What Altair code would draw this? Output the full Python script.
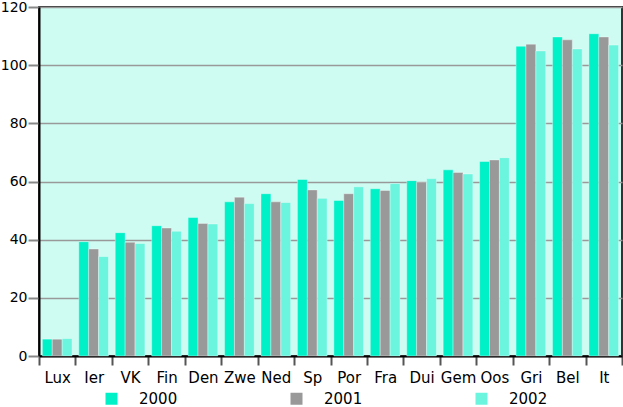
import altair as alt
import pandas as pd

countries = ["Lux", "Ier", "VK", "Fin", "Den", "Zwe", "Ned", "Sp", "Por", "Fra",
             "Dui", "Gem", "Oos", "Gri", "Bel", "It"]
years = ["2000", "2001", "2002"]
v2000 = [5.8, 39.3, 42.4, 44.8, 47.6, 53.0, 55.8, 60.7, 53.5, 57.5, 60.3, 64.0, 66.9, 106.5, 109.7, 110.8]
v2001 = [5.8, 36.8, 39.1, 44.0, 45.6, 54.6, 53.0, 57.1, 55.8, 56.9, 59.8, 63.1, 67.4, 107.2, 108.7, 109.7]
v2002 = [6.0, 34.2, 38.7, 42.9, 45.4, 52.4, 52.8, 54.2, 58.2, 59.3, 61.0, 62.6, 68.2, 104.9, 105.6, 106.9]
colors = ["#00F0C8", "#999999", "#6CF5DE"]

rows = []
for series, yr in zip([v2000, v2001, v2002], years):
    for c, v in zip(countries, series):
        rows.append({"land": c, "jaar": yr, "waarde": v})
df = pd.DataFrame(rows)

font = "DejaVu Sans"

chart = alt.Chart(df).mark_bar(
    stroke="#FFFFFF", strokeOpacity=0.35, strokeWidth=1
).encode(
    x=alt.X("land:N", sort=countries, title=None,
            scale=alt.Scale(paddingInner=0, paddingOuter=0),
            axis=alt.Axis(labelAngle=0, tickBand="extent", tickSize=9,
                          tickColor="#555555", tickWidth=2,
                          domainColor="#000000", domainWidth=2,
                          labelFont=font, labelFontSize=15, labelColor="#000000",
                          labelPadding=5)),
    xOffset=alt.XOffset("jaar:N", sort=years,
                        scale=alt.Scale(paddingInner=0, paddingOuter=0.34)),
    y=alt.Y("waarde:Q", title=None,
            scale=alt.Scale(domain=[0, 120], nice=False),
            axis=alt.Axis(values=[0, 20, 40, 60, 80, 100, 120], tickSize=11,
                          tickColor="#888888", tickWidth=2,
                          domainColor="#000000", domainWidth=2,
                          gridColor="#999999", gridWidth=1.5,
                          labelFont=font, labelFontSize=14, labelColor="#000000",
                          labelPadding=1, labelFlush=False, labelBound=False)),
    color=alt.Color("jaar:N", sort=years,
                    scale=alt.Scale(domain=years, range=colors),
                    legend=alt.Legend(title=None, orient="none", direction="horizontal",
                                      legendX=65, legendY=384, padding=0,
                                      symbolType="square", symbolSize=144,
                                      symbolStrokeWidth=0, labelOffset=20,
                                      columnPadding=111, labelFont=font,
                                      labelFontSize=15, labelColor="#000000")),
).properties(
    width=583, height=349,
    background="#FFFFFF",
    padding={"left": 39, "top": 7, "right": 1, "bottom": 51},
    autosize=alt.AutoSizeParams(type="none"),
).configure_view(
    fill="#CEFCF2", stroke="#333333", strokeWidth=2
)

chart.save("out.html", embed_options={"renderer": "svg", "actions": False})
